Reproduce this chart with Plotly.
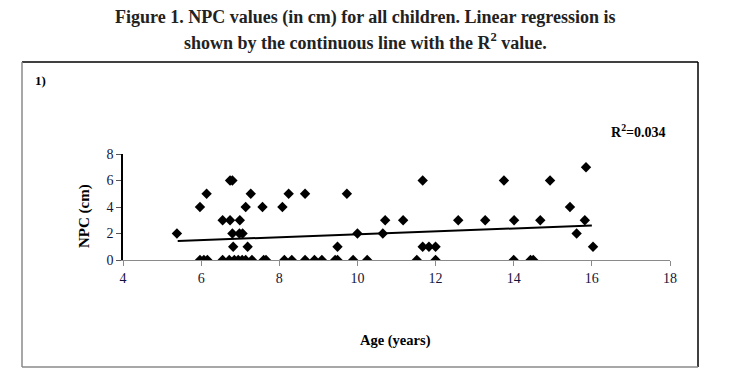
import plotly.graph_objects as go

# NPC (cm) vs age (years)
age_npc0 = [5.97, 6.07, 6.16, 6.55, 6.72, 6.85, 6.95, 7.05, 7.14, 7.3, 7.6, 7.66, 8.13,
            8.32, 8.66, 8.9, 9.09, 9.43, 9.49, 9.89, 10.25, 11.52, 12.0, 14.0, 14.43, 14.5]
age_npc1 = [6.82, 7.19, 9.49, 11.67, 11.83, 12.0, 16.03]
age_npc2 = [5.38, 6.8, 6.98, 7.06, 10.0, 10.65, 15.61]
age_npc3 = [6.55, 6.74, 6.99, 10.71, 11.17, 12.58, 13.27, 14.01, 14.68, 15.82]
age_npc4 = [5.97, 7.14, 7.57, 8.08, 15.44]
age_npc5 = [6.14, 7.27, 8.24, 8.66, 9.73]
age_npc6 = [6.74, 6.8, 11.67, 13.75, 14.93]
age_npc7 = [15.85]

groups = [age_npc0, age_npc1, age_npc2, age_npc3, age_npc4, age_npc5, age_npc6, age_npc7]
ages = [a for g in groups for a in g]
npc = [v for v, g in enumerate(groups) for _ in g]

# regression line as drawn
trend_age = [5.4, 16.0]
trend_npc = [1.43, 2.6]
r2_label = "R<sup>2</sup>=0.034"

x_ticks = [4, 6, 8, 10, 12, 14, 16, 18]
y_ticks = [0, 2, 4, 6, 8]

serif = "Liberation Serif, DejaVu Serif, serif"

fig = go.Figure()
fig.add_trace(go.Scatter(x=ages, y=npc, mode="markers",
                         marker=dict(symbol="diamond", size=8, color="black"),
                         hoverinfo="x+y", showlegend=False))
fig.add_trace(go.Scatter(x=trend_age, y=trend_npc, mode="lines",
                         line=dict(color="black", width=2), showlegend=False))

OFF = 8  # page body offset
L, R, T, B = 115, 69, 146, 133
pw, ph = 731 - L - R, 385 - T - B

def px(xp):
    return (xp - OFF - L) / pw

def py(yp):
    return (385 - B + OFF - yp) / ph

fig.update_layout(
    width=731, height=385,
    margin=dict(l=L, r=R, t=T, b=B),
    paper_bgcolor="white", plot_bgcolor="white",
    font=dict(family=serif, color="#1a1a2e", size=13),
    xaxis=dict(range=[4, 18], tickvals=x_ticks, showgrid=False, zeroline=False,
               showline=True, linecolor="#8a8a8a", linewidth=1,
               ticks="outside", ticklen=5, tickcolor="#8a8a8a",
               tickfont=dict(family=serif, size=14, color="#14143a")),
    yaxis=dict(range=[0, 8], tickvals=y_ticks, showgrid=False, zeroline=False,
               showline=True, linecolor="black", linewidth=1.5,
               ticks="outside", ticklen=5, tickcolor="#555",
               tickfont=dict(family=serif, size=14, color="#14143a")),
    shapes=[
        dict(type="line", xref="paper", yref="paper", x0=px(22), x1=px(698), y0=py(62), y1=py(62),
             line=dict(color="black", width=1.5)),
        dict(type="line", xref="paper", yref="paper", x0=px(698), x1=px(698), y0=py(62), y1=py(367),
             line=dict(color="black", width=1.5)),
        dict(type="line", xref="paper", yref="paper", x0=px(22), x1=px(22), y0=py(62), y1=py(367),
             line=dict(color="#8a8a8a", width=1.5)),
        dict(type="line", xref="paper", yref="paper", x0=px(22), x1=px(698), y0=py(367), y1=py(367),
             line=dict(color="#8a8a8a", width=1.5)),
    ],
    annotations=[
        dict(text="<b>Figure 1. NPC values (in cm) for all children. Linear regression is</b>",
             xref="paper", yref="paper", x=px(365), y=py(18), showarrow=False,
             xanchor="center", yanchor="middle", font=dict(family=serif, size=18, color="#222")),
        dict(text="<b>shown by the continuous line with the R<sup>2</sup> value.</b>",
             xref="paper", yref="paper", x=px(365), y=py(41), showarrow=False,
             xanchor="center", yanchor="middle", font=dict(family=serif, size=18, color="#222")),
        dict(text="<b>1)</b>", xref="paper", yref="paper", x=px(33), y=py(80), showarrow=False,
             xanchor="left", yanchor="middle", font=dict(family=serif, size=13, color="black")),
        dict(text="<b>" + r2_label + "</b>", xref="paper", yref="paper", x=px(638), y=py(131),
             showarrow=False, xanchor="center", yanchor="middle",
             font=dict(family=serif, size=14, color="black")),
        dict(text="<b>Age (years)</b>", xref="paper", yref="paper", x=px(395), y=py(340),
             showarrow=False, xanchor="center", yanchor="middle",
             font=dict(family=serif, size=14.5, color="black")),
        dict(text="<b>NPC (cm)</b>", xref="paper", yref="paper", x=px(84), y=py(216),
             showarrow=False, xanchor="center", yanchor="middle", textangle=-90,
             font=dict(family=serif, size=15, color="black")),
    ],
)

fig.write_html("out.html")
